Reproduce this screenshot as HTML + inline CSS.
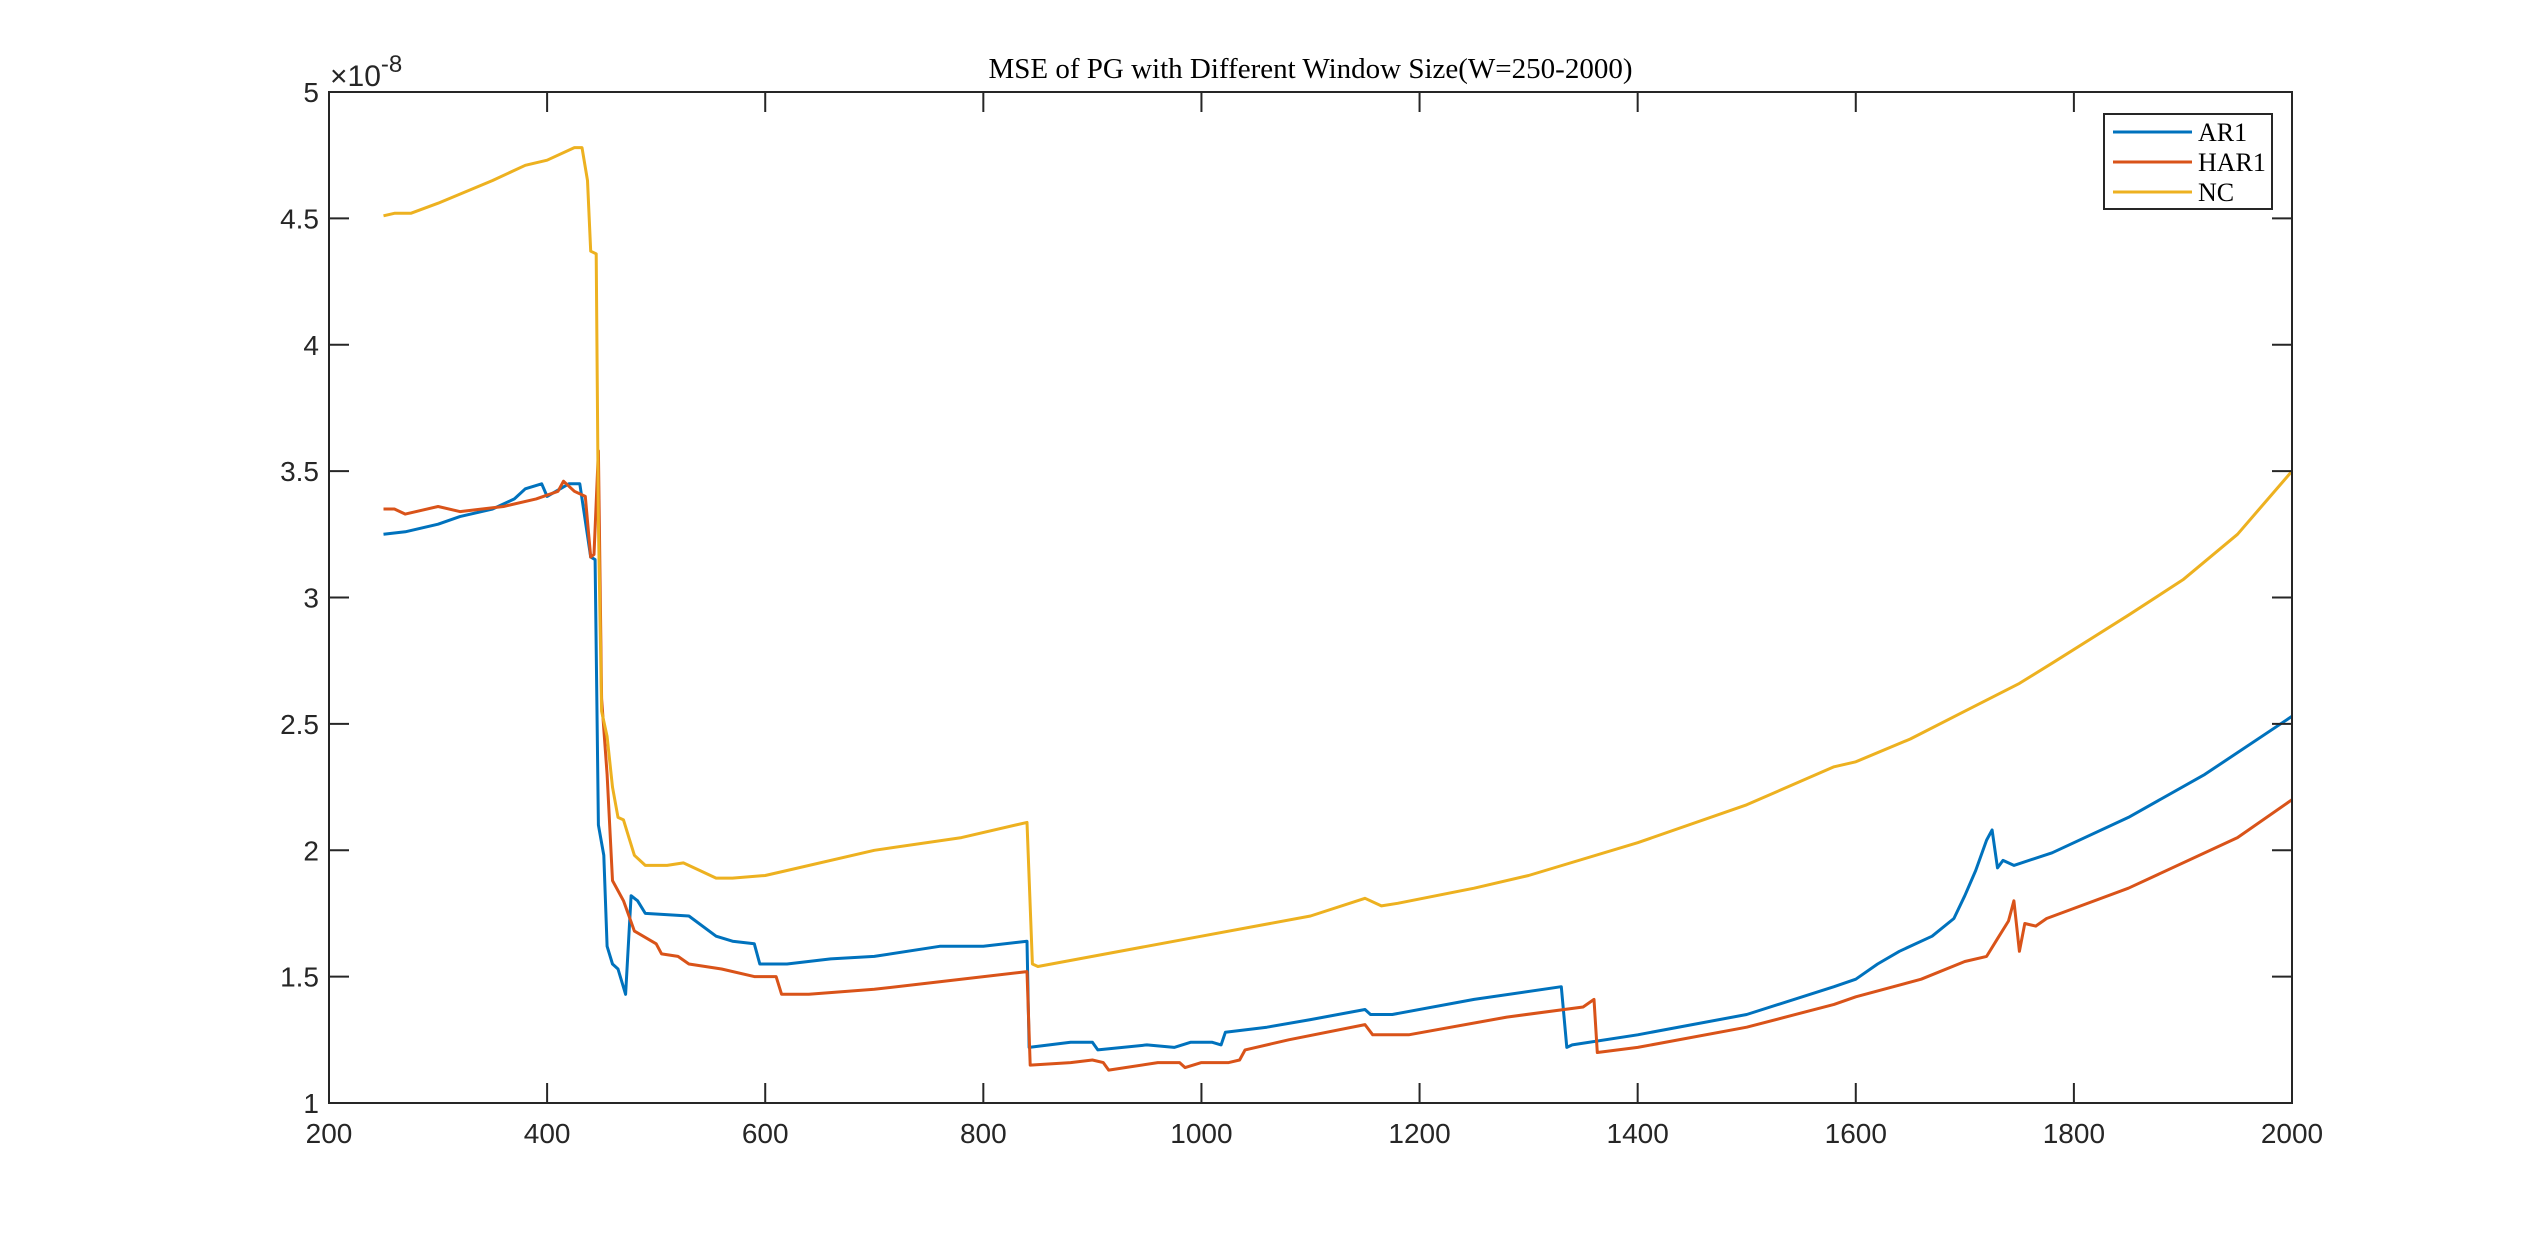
<!DOCTYPE html>
<html><head><meta charset="utf-8"><style>
body{margin:0;background:#fff;}
svg{display:block;}
text{font-family:"Liberation Sans",Arial,sans-serif;fill:#262626;}
.serif{font-family:"Liberation Serif","DejaVu Serif",serif;fill:#000;}
</style></head><body>
<svg id="chart" width="2534" height="1240" viewBox="0 0 2534 1240" xmlns="http://www.w3.org/2000/svg">
<rect width="2534" height="1240" fill="#fff"/>
<g id="plot"></g>
</svg>
<script>
const xTicks=[200,400,600,800,1000,1200,1400,1600,1800,2000];
const yTicks=[1,1.5,2,2.5,3,3.5,4,4.5,5];
const yTickLabels=["1","1.5","2","2.5","3","3.5","4","4.5","5"];
const seriesNames=["AR1","HAR1","NC"];
const arX=[250,270,300,320,350,370,380,395,400,420,430,440,444,447,452,455,460,465,472,477,483,490,530,555,570,590,595,620,660,700,760,800,840,842,880,900,905,950,975,990,1010,1018,1022,1060,1100,1150,1155,1175,1250,1330,1335,1340,1400,1500,1580,1600,1620,1640,1670,1690,1700,1710,1720,1725,1730,1735,1745,1780,1850,1920,2000];
const arY=[3.25,3.26,3.29,3.32,3.35,3.39,3.43,3.45,3.4,3.45,3.45,3.16,3.15,2.1,1.98,1.62,1.55,1.53,1.43,1.82,1.8,1.75,1.74,1.66,1.64,1.63,1.55,1.55,1.57,1.58,1.62,1.62,1.64,1.22,1.24,1.24,1.21,1.23,1.22,1.24,1.24,1.23,1.28,1.3,1.33,1.37,1.35,1.35,1.41,1.46,1.22,1.23,1.27,1.35,1.46,1.49,1.55,1.6,1.66,1.73,1.82,1.92,2.04,2.08,1.93,1.96,1.94,1.99,2.13,2.3,2.53];
const harX=[250,260,270,300,320,360,390,410,415,425,435,440,443,447,450,455,460,470,480,500,505,520,530,560,590,610,615,640,700,760,840,843,880,900,910,915,960,980,985,1000,1025,1035,1040,1080,1150,1157,1190,1280,1350,1360,1363,1400,1500,1580,1600,1660,1700,1720,1730,1740,1745,1750,1755,1765,1775,1850,1950,2000];
const harY=[3.35,3.35,3.33,3.36,3.34,3.36,3.39,3.42,3.46,3.42,3.4,3.16,3.17,3.58,2.6,2.3,1.88,1.8,1.68,1.63,1.59,1.58,1.55,1.53,1.5,1.5,1.43,1.43,1.45,1.48,1.52,1.15,1.16,1.17,1.16,1.13,1.16,1.16,1.14,1.16,1.16,1.17,1.21,1.25,1.31,1.27,1.27,1.34,1.38,1.41,1.2,1.22,1.3,1.39,1.42,1.49,1.56,1.58,1.65,1.72,1.8,1.6,1.71,1.7,1.73,1.85,2.05,2.2];
const ncX=[250,260,275,300,350,380,400,425,432,437,440,445,447,450,455,460,465,470,475,480,490,510,525,540,555,570,600,620,700,780,840,845,850,900,1000,1100,1150,1165,1180,1250,1300,1400,1500,1580,1590,1600,1650,1700,1750,1780,1850,1900,1950,2000];
const ncY=[4.51,4.52,4.52,4.56,4.65,4.71,4.73,4.78,4.78,4.65,4.37,4.36,3.3,2.55,2.45,2.25,2.13,2.12,2.05,1.98,1.94,1.94,1.95,1.92,1.89,1.89,1.9,1.92,2.0,2.05,2.11,1.55,1.54,1.58,1.66,1.74,1.81,1.78,1.79,1.85,1.9,2.03,2.18,2.33,2.34,2.35,2.44,2.55,2.66,2.74,2.93,3.07,3.25,3.5];

const L=329,R=2292,T=92,B=1103;
const sx=v=>L+(v-200)/(2000-200)*(R-L);
const sy=v=>B-(v-1)/(5-1)*(B-T);
const NS="http://www.w3.org/2000/svg";
const g=document.getElementById('plot');
function mk(tag,attrs,parent){const e=document.createElementNS(NS,tag);for(const k in attrs)e.setAttribute(k,attrs[k]);(parent||g).appendChild(e);return e;}

const title=mk('text',{x:(L+R)/2,y:78,'text-anchor':'middle','font-size':'29',class:'serif'});
title.textContent='MSE of PG with Different Window Size(W=250-2000)';



const exp=mk('text',{x:330,y:86,'font-size':'30'});
exp.innerHTML='×10<tspan dy="-14" font-size="24">-8</tspan>';



const colors=["#0072BD","#D95319","#EDB120"];
const xs=[arX,harX,ncX], ys=[arY,harY,ncY];
for(let s=0;s<3;s++){
  const d=xs[s].map((x,i)=>(i?'L':'M')+sx(x).toFixed(1)+' '+sy(ys[s][i]).toFixed(1)).join(' ');
  const p=mk('path',{d:d,fill:'none',stroke:colors[s],'stroke-width':'3','stroke-linejoin':'round'});
  
  
}

const box=mk('rect',{x:L,y:T,width:R-L,height:B-T,fill:'none',stroke:'#262626','stroke-width':'2'});



xTicks.forEach(v=>{
  const x=sx(v);
  mk('line',{x1:x,y1:B,x2:x,y2:B-20,stroke:'#262626','stroke-width':'2'});
  mk('line',{x1:x,y1:T,x2:x,y2:T+20,stroke:'#262626','stroke-width':'2'});
  const t=mk('text',{x:x,y:B+40,'text-anchor':'middle','font-size':'28'});
  t.textContent=v;
  
  
});
yTicks.forEach((v,i)=>{
  const y=sy(v);
  mk('line',{x1:L,y1:y,x2:L+20,y2:y,stroke:'#262626','stroke-width':'2'});
  mk('line',{x1:R,y1:y,x2:R-20,y2:y,stroke:'#262626','stroke-width':'2'});
  const t=mk('text',{x:L-10,y:y+10,'text-anchor':'end','font-size':'28'});
  t.textContent=yTickLabels[i];
  
  
});

const lg=mk('g',{});


mk('rect',{x:2104,y:114,width:168,height:95,fill:'#fff',stroke:'#262626','stroke-width':'2'},lg);
seriesNames.forEach((n,i)=>{
  const y=132+i*30;
  const e=mk('g',{},lg);
  
  
  mk('line',{x1:2113,y1:y,x2:2192,y2:y,stroke:colors[i],'stroke-width':'3'},e);
  const t=mk('text',{x:2198,y:y+9,'font-size':'26',class:'serif'},e);
  t.textContent=n;
});
</script>
</body></html>
